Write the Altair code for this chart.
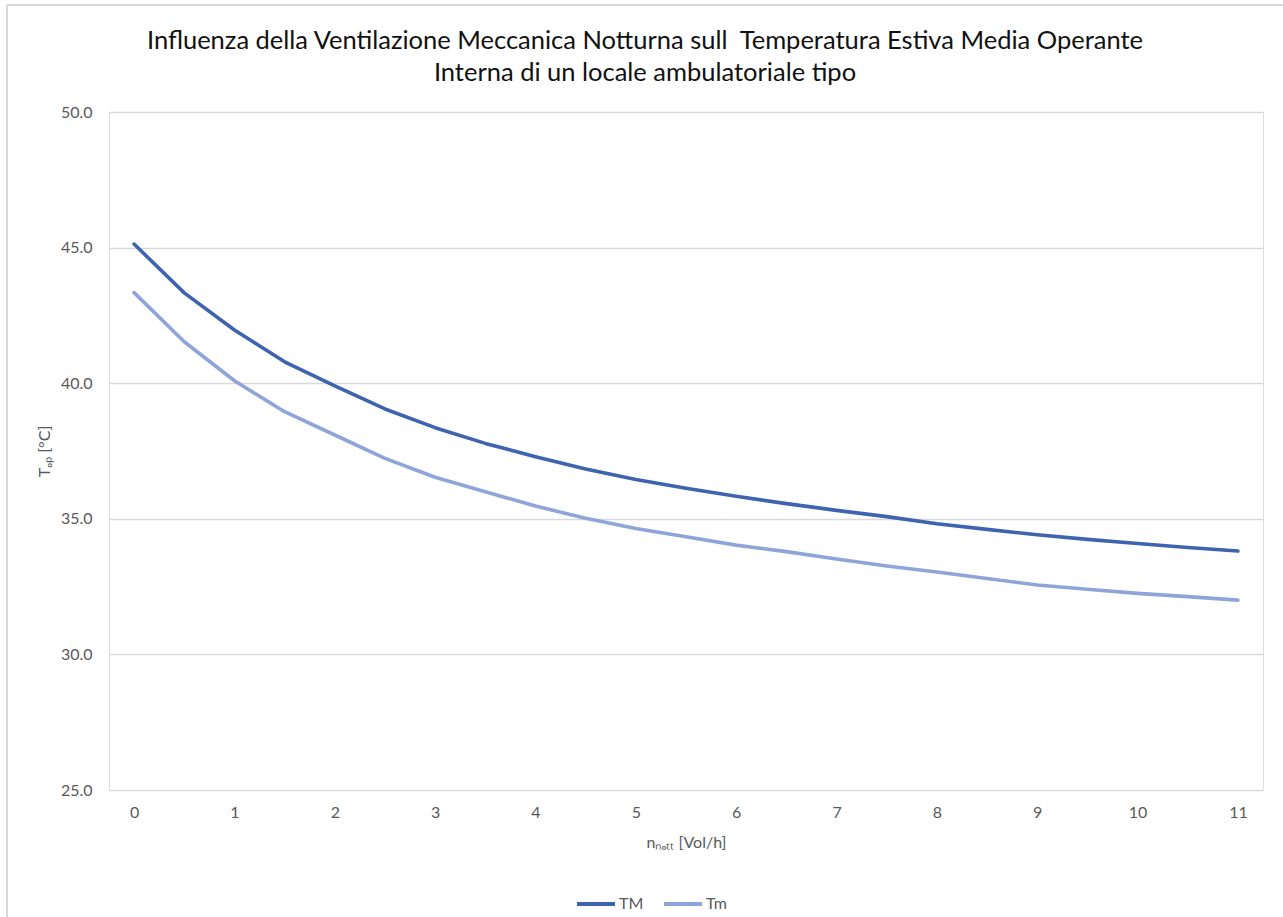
import altair as alt
import pandas as pd

# Air changes per hour during night ventilation
n_nott = [0, 0.5, 1, 1.5, 2, 2.5, 3, 3.5, 4, 4.5, 5, 5.5,
          6, 6.5, 7, 7.5, 8, 8.5, 9, 9.5, 10, 10.5, 11]

# Mean operative temperature (°C), two series
TM = [45.13, 43.33, 41.96, 40.79, 39.90, 39.05, 38.36, 37.78, 37.29, 36.84,
      36.45, 36.13, 35.83, 35.56, 35.31, 35.08, 34.82, 34.61, 34.41, 34.24,
      34.09, 33.94, 33.81]
Tm = [43.34, 41.53, 40.09, 38.95, 38.09, 37.23, 36.53, 36.00, 35.47, 35.02,
      34.64, 34.34, 34.03, 33.79, 33.52, 33.26, 33.04, 32.80, 32.56, 32.40,
      32.25, 32.13, 32.00]

series_names = ["TM", "Tm"]
series_colors = ["#3E63AF", "#8FA5D9"]
x_ticks = list(range(0, 12))
y_ticks = [25, 30, 35, 40, 45, 50]

title_lines = [
    "Influenza della Ventilazione Meccanica Notturna sull\u00a0 Temperatura Estiva Media Operante",
    "Interna di un locale ambulatoriale tipo",
]

rows = []
for name, vals in zip(series_names, [TM, Tm]):
    for x, v in zip(n_nott, vals):
        rows.append({"n": x, "T": v, "serie": name})
df = pd.DataFrame(rows)

FONT = "Lato"
GREY = "#595959"

lines = alt.Chart(df).mark_line(strokeWidth=3.6, strokeCap="round", strokeJoin="round").encode(
    x=alt.X(
        "n:Q",
        scale=alt.Scale(domain=[-0.25, 11.25], nice=False, zero=False),
        axis=alt.Axis(
            values=x_ticks, format="d", grid=False, domain=False, ticks=False,
            labelFontSize=16, labelColor=GREY, labelFont=FONT, labelPadding=14,
            title="nₙₒₜₜ [Vol/h]", titleFontSize=16, titleColor=GREY, titleFont=FONT,
            titleFontWeight="normal", titlePadding=14,
        ),
    ),
    y=alt.Y(
        "T:Q",
        scale=alt.Scale(domain=[25, 50], nice=False, zero=False),
        axis=alt.Axis(
            values=y_ticks, format=".1f", grid=True, gridColor="#D9D9D9", gridWidth=1.3,
            domain=False, ticks=False,
            labelFontSize=16, labelColor=GREY, labelFont=FONT, labelPadding=17,
            title="Tₒₚ [°C]", titleFontSize=16, titleColor=GREY, titleFont=FONT,
            titleFontWeight="normal", titleX=-57, titleY=339,
        ),
    ),
    color=alt.Color(
        "serie:N",
        scale=alt.Scale(domain=series_names, range=series_colors),
        legend=alt.Legend(
            title=None, orient="none", legendX=466, legendY=771, direction="horizontal",
            symbolType="stroke", symbolSize=1444, symbolStrokeWidth=4,
            labelFontSize=16, labelColor=GREY, labelFont=FONT, labelOffset=2,
            columnPadding=12, gridAlign="none",
        ),
    ),
)

# Two-line chart title, centred over the chart area
title = alt.Chart().mark_text(
    text=title_lines, font=FONT, fontSize=25.5, color="#111111",
    align="center", baseline="alphabetic", lineHeight=32,
).encode(x=alt.value(536), y=alt.value(-63))

# Light chart-area frame (left and top edges)
frame_left = alt.Chart().mark_rule(color="#D9D9D9", strokeWidth=2).encode(
    x=alt.value(-102), y=alt.value(-107), y2=alt.value(805)
)
frame_top = alt.Chart().mark_rule(color="#D9D9D9", strokeWidth=2).encode(
    x=alt.value(-102), x2=alt.value(1174), y=alt.value(-107)
)

chart = alt.layer(frame_left, frame_top, title, lines).properties(
    width=1154,
    height=678,
    padding={"left": 109, "top": 112, "right": 20, "bottom": 127},
    autosize=alt.AutoSizeParams(type="none"),
).configure_view(stroke=None).configure(background="white")

chart.save("out.html", embed_options={"renderer": "svg", "actions": False})
